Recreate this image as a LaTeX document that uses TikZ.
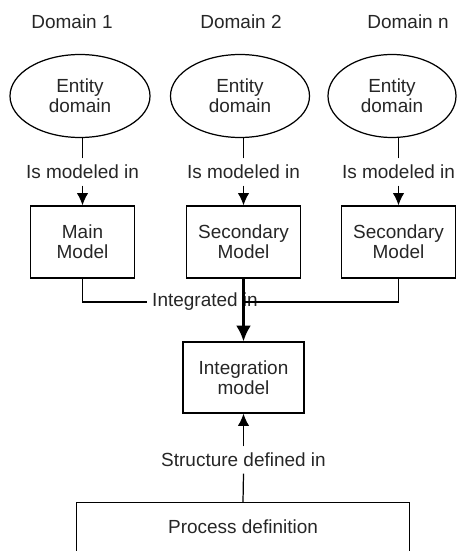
\documentclass[tikz,border=0pt]{standalone}
\usepackage{fontspec}
\setmainfont{Liberation Sans}
\usepackage{tikz}
\usetikzlibrary{shapes.geometric,arrows.meta}
\tikzset{>={Latex[length=7pt,width=6.5pt]}}
\tikzset{
  entity/.style={draw,ellipse,line width=0.7pt,inner sep=0pt,minimum height=1.66cm,align=center},
  model/.style={draw,rectangle,line width=0.7pt,minimum height=1.44cm,align=center},
  rel/.style={inner xsep=2.5pt,inner ysep=3.5pt},
}

\begin{document}
\begin{tikzpicture}[font=\fontsize{10.8}{11.6}\selectfont,line width=0.7pt,text=black!85]
\useasboundingbox (0,0) rectangle (9.14,11.02);
% domains
\node (d1) at (1.44,10.58) {Domain 1};
\node (d2) at (4.82,10.58) {Domain 2};
\node (d3) at (8.16,10.58) {Domain n};
\node [entity,minimum width=2.8cm] (e1) at (1.60,9.10) {Entity\\domain};
\node [entity,minimum width=2.78cm] (e2) at (4.80,9.10) {Entity\\domain};
\node [entity,minimum width=2.56cm] (e3) at (7.84,9.10) {Entity\\domain};
\node [rel] (l1) at (1.65,7.58) {Is modeled in};
\node [rel] (l2) at (4.87,7.58) {Is modeled in};
\node [rel] (l3) at (7.97,7.58) {Is modeled in};
\node [model,minimum width=2.08cm] (m1) at (1.65,6.18) {Main\\Model};
\node [model,minimum width=2.28cm] (m2) at (4.87,6.18) {Secondary\\Model};
\node [model,minimum width=2.28cm] (m3) at (7.97,6.18) {Secondary\\Model};
\draw (l1.north) -- (l1.north |- e1.south);
\draw (l2.north) -- (l2.north |- e2.south);
\draw (l3.north) -- (l3.north |- e3.south);
\draw [->] (l1.south) -- (m1.north);
\draw [->] (l2.south) -- (m2.north);
\draw [->] (l3.south) -- (m3.north);
% integration
\node [rel] (il) at (4.10,4.98) {Integrated in};
\coordinate (join) at (4.87,4.98);
\node [model,minimum width=2.42cm,minimum height=1.42cm] (integ) at (4.87,3.47) {Integration\\model};
\draw (m1.south) |- (il.west);
\draw (m3.south) |- (join);
\draw [-{Latex[length=9pt,width=8.5pt]},line width=1.4pt] (m2.south) -- (integ.north);
% process
\node [rel] (sl) at (4.87,1.82) {Structure defined in};
\node [minimum width=6.64cm,minimum height=0.96cm] (proc) at (4.86,0.48) {Process definition};
\draw [->] (sl.north) -- (integ.south);
\draw (sl.south) -- (proc.north);
\draw (proc.south west) |- (proc.north east) -- (proc.south east);
\end{tikzpicture}
\end{document}
